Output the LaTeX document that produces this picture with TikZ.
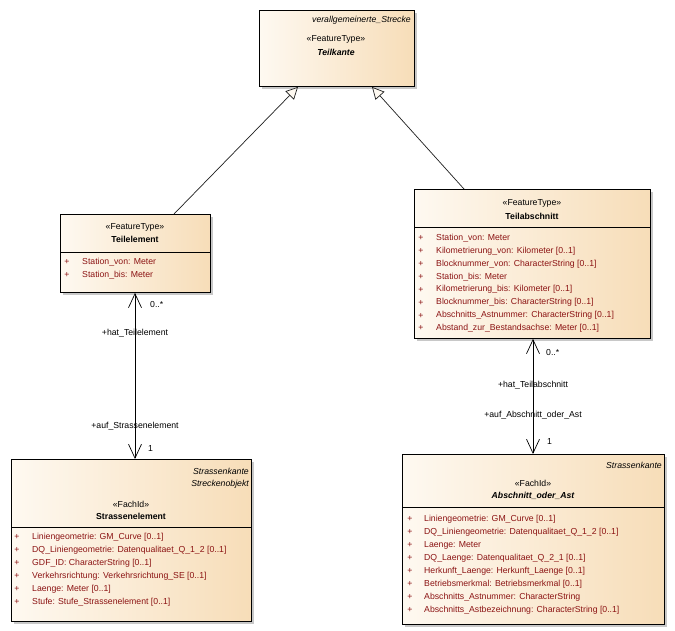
\documentclass[tikz,border=0pt]{standalone}
\usepackage{fontspec}
\setmainfont{Liberation Sans}
\usetikzlibrary{arrows.meta,calc,shadows}
\definecolor{attrred}{RGB}{140,20,20}
\definecolor{boxl}{RGB}{254,249,241}
\definecolor{boxr}{RGB}{247,221,184}
\definecolor{shad}{RGB}{200,200,200}
\definecolor{linec}{RGB}{30,30,30}
\newcommand{\fsz}{\fontsize{8.7}{10}\selectfont}
\tikzset{
  umlbox/.style={draw=black, line width=0.9pt, left color=boxl, right color=boxr,
    anchor=north west, inner sep=0pt,
    drop shadow={shadow xshift=3pt, shadow yshift=-3pt, fill=shad, opacity=1}},
  txt/.style={font=\fsz, inner sep=0pt},
  stereo/.style={txt},
  title/.style={txt, font=\fsz\bfseries},
  ititle/.style={txt, font=\fsz\bfseries\itshape},
  parent/.style={txt, font=\fsz\itshape, anchor=east},
  attr/.style={txt, text=attrred, anchor=west},
  plus/.style={txt, text=attrred},
  sepline/.style={draw=black, line width=0.8pt},
  gen/.style={draw=linec, line width=0.7pt, -{Triangle[length=12pt,width=12pt,fill=boxl,line width=0.7pt]}},
  assoc/.style={draw=black, line width=0.7pt, {Straight Barb[length=14pt,width=13pt,line width=0.7pt]}-{Straight Barb[length=14pt,width=13pt,line width=0.7pt]}},
  lbl/.style={txt, text=black}
}
\begin{document}
\begin{tikzpicture}[x=1pt,y=-1pt]
\useasboundingbox (0,0) rectangle (675,631);

% Teilkante
\node[umlbox, minimum width=155pt, minimum height=76pt] (tk) at (259,10) {};
\node[parent] (tkp) at (411,20) {verallgemeinerte\_Strecke};
\node[stereo] (tks) at (336,39) {«FeatureType»};
\node[ititle] (tkt) at (336,52) {Teilkante};

% Teilelement
\node[umlbox, minimum width=150pt, minimum height=78pt] (te) at (60,214) {};
\draw[sepline] ($(te.north west)+(0,38)$) -- ($(te.north east)+(0,38)$);
\node[stereo] (tes) at (135,227) {«FeatureType»};
\node[title] (tet) at (135,239) {Teilelement};
\foreach \t [count=\i] in {Station\_von: Meter, Station\_bis: Meter}{
  \node[plus] (tep\i) at (67,249.2+12.8*\i) {+};
  \node[attr] (tea\i) at (82,249.2+12.8*\i) {\t};
}

% Teilabschnitt
\node[umlbox, minimum width=236pt, minimum height=149pt] (ta) at (414,189) {};
\draw[sepline] ($(ta.north west)+(0,38)$) -- ($(ta.north east)+(0,38)$);
\node[stereo] (tas) at (532,203) {«FeatureType»};
\node[title] (tat) at (532,216) {Teilabschnitt};
\foreach \t [count=\i] in {Station\_von: Meter, Kilometrierung\_von: Kilometer [0..1], Blocknummer\_von: CharacterString [0..1], Station\_bis: Meter, Kilometrierung\_bis: Kilometer [0..1], Blocknummer\_bis: CharacterString [0..1], Abschnitts\_Astnummer: CharacterString [0..1], Abstand\_zur\_Bestandsachse: Meter [0..1]}{
  \node[plus] (tap\i) at (421,225.2+12.9*\i) {+};
  \node[attr] (taa\i) at (436,225.2+12.9*\i) {\t};
}

% Strassenelement
\node[umlbox, minimum width=240pt, minimum height=162pt] (se) at (11,459) {};
\draw[sepline] ($(se.north west)+(0,68)$) -- ($(se.north east)+(0,68)$);
\node[parent] (sep1) at (249,471) {Strassenkante};
\node[parent] (sep2) at (249,484) {Streckenobjekt};
\node[stereo] (ses) at (131,504) {«FachId»};
\node[title] (set) at (131,516) {Strassenelement};
\foreach \t [count=\i] in {Liniengeometrie: GM\_Curve [0..1], DQ\_Liniengeometrie: Datenqualitaet\_Q\_1\_2 [0..1], GDF\_ID: CharacterString [0..1], Verkehrsrichtung: Verkehrsrichtung\_SE [0..1], Laenge: Meter [0..1], Stufe: Stufe\_Strassenelement [0..1]}{
  \node[plus] (sepl\i) at (17,524+13*\i) {+};
  \node[attr] (sea\i) at (32,524+13*\i) {\t};
}

% Abschnitt_oder_Ast
\node[umlbox, minimum width=262pt, minimum height=170pt] (ab) at (402,454) {};
\draw[sepline] ($(ab.north west)+(0,53)$) -- ($(ab.north east)+(0,53)$);
\node[parent] (abp) at (662,465) {Strassenkante};
\node[stereo] (abs) at (533,483) {«FachId»};
\node[ititle] (abt) at (533,496) {Abschnitt\_oder\_Ast};
\foreach \t [count=\i] in {Liniengeometrie: GM\_Curve [0..1], DQ\_Liniengeometrie: Datenqualitaet\_Q\_1\_2 [0..1], Laenge: Meter, DQ\_Laenge: Datenqualitaet\_Q\_2\_1 [0..1], Herkunft\_Laenge: Herkunft\_Laenge [0..1], Betriebsmerkmal: Betriebsmerkmal [0..1], Abschnitts\_Astnummer: CharacterString, Abschnitts\_Astbezeichnung: CharacterString [0..1]}{
  \node[plus] (abpl\i) at (410,506+13*\i) {+};
  \node[attr] (aba\i) at (424,506+13*\i) {\t};
}

% generalizations
\draw[gen] ($(te.north west)+(114,0)$) -- ($(tk.south west)+(39,0)$);
\draw[gen] ($(ta.north west)+(50,0)$) -- ($(tk.south west)+(113,0)$);

% associations
\draw[assoc] ($(te.south west)+(75,0)$) -- ($(se.north west)+(124,0)$);
\draw[assoc] ($(ta.south west)+(119,0)$) -- ($(ab.north west)+(131,0)$);

% association labels
\node[lbl, anchor=west] (l1) at (150,305) {0..*};
\node[lbl] (l2) at (135,333) {+hat\_Teilelement};
\node[lbl] (l3) at (135,426) {+auf\_Strassenelement};
\node[lbl, anchor=west] (l4) at (148,449) {1};
\node[lbl, anchor=west] (l5) at (546,353) {0..*};
\node[lbl] (l6) at (533,385) {+hat\_Teilabschnitt};
\node[lbl] (l7) at (533,415) {+auf\_Abschnitt\_oder\_Ast};
\node[lbl, anchor=west] (l8) at (547,442) {1};
\end{tikzpicture}
\end{document}
